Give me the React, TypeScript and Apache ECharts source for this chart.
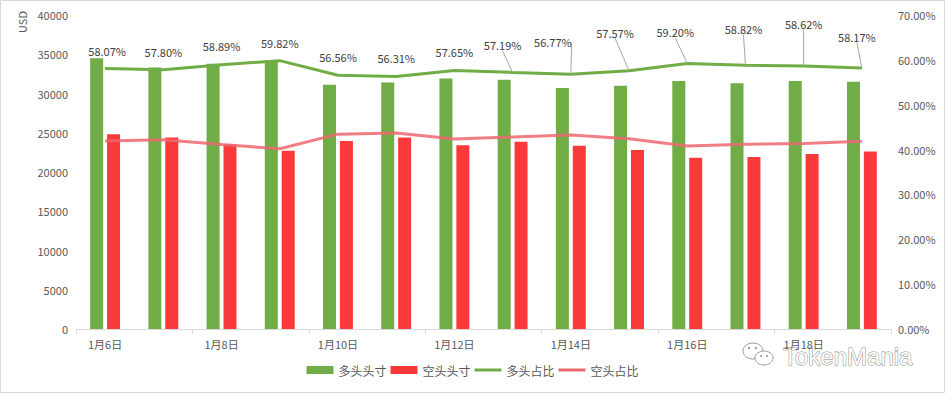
import React, { useEffect, useRef } from 'react';
import * as echarts from 'echarts';

const categories = ['1月6日', '1月7日', '1月8日', '1月9日', '1月10日', '1月11日', '1月12日', '1月13日', '1月14日', '1月15日', '1月16日', '1月17日', '1月18日', '1月19日'];
const longPosition = [34500, 33300, 33800, 34000, 31100, 31400, 31900, 31750, 30700, 31000, 31600, 31300, 31600, 31500];
const shortPosition = [24800, 24400, 23500, 22700, 23950, 24400, 23400, 23850, 23350, 22800, 21800, 21900, 22300, 22600];
const longRatio = [58.07, 57.8, 58.89, 59.82, 56.56, 56.31, 57.65, 57.19, 56.77, 57.57, 59.2, 58.82, 58.62, 58.17];
const shortRatio = [41.93, 42.2, 41.11, 40.18, 43.44, 43.69, 42.35, 42.81, 43.23, 42.43, 40.8, 41.18, 41.38, 41.83];
const leftTicks = { min: 0, max: 40000, interval: 5000 };
const rightTicks = { min: 0, max: 70, interval: 10 };

// label nudges (dx, dy) mimicking the hand-placed labels of the original
const labelShift: [number, number][] = [
  [2, -5], [0, -5], [0, -6], [0, -5], [0, -5], [0, -5], [0, -5],
  [-10, -14], [-18, -19], [-14, -25], [-12, -18], [-2, -23], [0, -29], [-5, -18],
];

const GREEN = '#70AD47';
const RED = '#FA3A3A';
const PINK = '#EC6870';
const TXT = '#595959';
const FONT = '"Noto Sans CJK SC", "Liberation Sans", sans-serif';
const LINE_ICON = 'path://M0,0 L27,0 L27,3 L0,3 Z';

export default function App() {
  const ref = useRef<HTMLDivElement>(null);
  useEffect(() => {
    if (!ref.current) return;
    const chart = echarts.init(ref.current, undefined, { renderer: 'svg' });
    chart.setOption({
      animation: false,
      backgroundColor: '#fff',
      textStyle: { fontFamily: FONT },
      grid: { left: 76, right: 54, top: 15, bottom: 64, containLabel: false },
      legend: {
        bottom: 12,
        left: 'center',
        itemWidth: 27,
        itemHeight: 8,
        itemGap: 4,
        textStyle: { color: TXT, fontSize: 12, fontFamily: FONT },
        data: [
          { name: '多头头寸', icon: 'rect' },
          { name: '空头头寸', icon: 'rect' },
          { name: '多头占比', icon: LINE_ICON },
          { name: '空头占比', icon: LINE_ICON },
        ],
      },
      xAxis: {
        type: 'category',
        data: categories,
        boundaryGap: true,
        axisLine: { show: true, lineStyle: { color: '#D9D9D9', width: 1 } },
        axisTick: { show: true, interval: 1, length: 5, lineStyle: { color: '#D9D9D9' } },
        axisLabel: { interval: 1, color: TXT, fontSize: 11, margin: 9, fontFamily: FONT },
        splitLine: { show: false },
      },
      yAxis: [
        {
          type: 'value',
          ...leftTicks,
          axisLine: { show: false },
          axisTick: { show: false },
          splitLine: { show: false },
          axisLabel: { color: TXT, fontSize: 11, margin: 8, fontFamily: FONT, formatter: (v: number) => String(v) },
        },
        {
          type: 'value',
          ...rightTicks,
          axisLine: { show: false },
          axisTick: { show: false },
          splitLine: { show: false },
          axisLabel: {
            color: TXT,
            fontSize: 11,
            margin: 7,
            fontFamily: FONT,
            formatter: (v: number) => v.toFixed(2) + '%',
          },
        },
      ],
      series: [
        {
          name: '多头头寸',
          type: 'bar',
          data: longPosition,
          barWidth: 13,
          barGap: '30%',
          itemStyle: { color: GREEN },
        },
        {
          name: '空头头寸',
          type: 'bar',
          data: shortPosition,
          barWidth: 13,
          itemStyle: { color: RED },
        },
        {
          name: '多头占比',
          type: 'line',
          yAxisIndex: 1,
          data: longRatio.map((v, i) => ({ value: v, labelLine: { show: i >= 7 } })),
          symbol: 'circle',
          symbolSize: 1,
          showSymbol: true,
          lineStyle: { color: GREEN, width: 3 },
          itemStyle: { color: GREEN },
          label: {
            show: true,
            position: 'top',
            distance: 7,
            color: '#404040',
            fontSize: 11,
            fontFamily: FONT,
            formatter: (p: any) => Number(p.value).toFixed(2) + '%',
          },
          labelLine: { show: false, lineStyle: { color: '#A6A6A6', width: 1 } },
          labelLayout: (p: any) => {
            const s = labelShift[p.dataIndex] || [0, 0];
            return { dx: s[0], dy: s[1] };
          },
          z: 5,
        },
        {
          name: '空头占比',
          type: 'line',
          yAxisIndex: 1,
          data: shortRatio,
          symbol: 'none',
          lineStyle: { color: PINK, width: 3, opacity: 0.85 },
          itemStyle: { color: PINK },
          z: 4,
        },
      ],
      graphic: [
        {
          type: 'rect',
          shape: { x: 0.5, y: 0.5, width: 944, height: 392 },
          style: { fill: 'none', stroke: '#D9D9D9', lineWidth: 1 },
          silent: true,
          z: -1,
        },
        {
          type: 'text',
          x: 22,
          y: 22,
          rotation: Math.PI / 2,
          style: {
            text: 'USD',
            fill: TXT,
            font: '11px ' + FONT,
            align: 'center',
            verticalAlign: 'middle',
          },
        },
        {
          type: 'group',
          z: 100,
          children: [
            {
              type: 'ellipse',
              shape: { cx: 753, cy: 351, rx: 10, ry: 8 },
              style: { fill: '#fff', stroke: '#9a9a9a', lineWidth: 1 },
            },
            {
              type: 'ellipse',
              shape: { cx: 764, cy: 358, rx: 9, ry: 7 },
              style: { fill: '#fff', stroke: '#9a9a9a', lineWidth: 1 },
            },
            { type: 'circle', shape: { cx: 749, cy: 348, r: 1.2 }, style: { fill: '#9a9a9a' } },
            { type: 'circle', shape: { cx: 756, cy: 348, r: 1.2 }, style: { fill: '#9a9a9a' } },
            { type: 'circle', shape: { cx: 761, cy: 356, r: 1 }, style: { fill: '#9a9a9a' } },
            { type: 'circle', shape: { cx: 767, cy: 356, r: 1 }, style: { fill: '#9a9a9a' } },
            {
              type: 'text',
              x: 783,
              y: 356,
              style: {
                text: 'TokenMania',
                font: '24px "Liberation Sans", sans-serif',
                fill: '#ffffff',
                stroke: '#8a8a8a',
                lineWidth: 1,
                verticalAlign: 'middle',
                align: 'left',
              },
            },
          ],
        },
      ],
    });
    return () => chart.dispose();
  }, []);
  return (
    <div
      ref={ref}
      style={{ position: 'fixed', left: 0, top: 0, width: 945, height: 393, background: '#fff' }}
    />
  );
}
